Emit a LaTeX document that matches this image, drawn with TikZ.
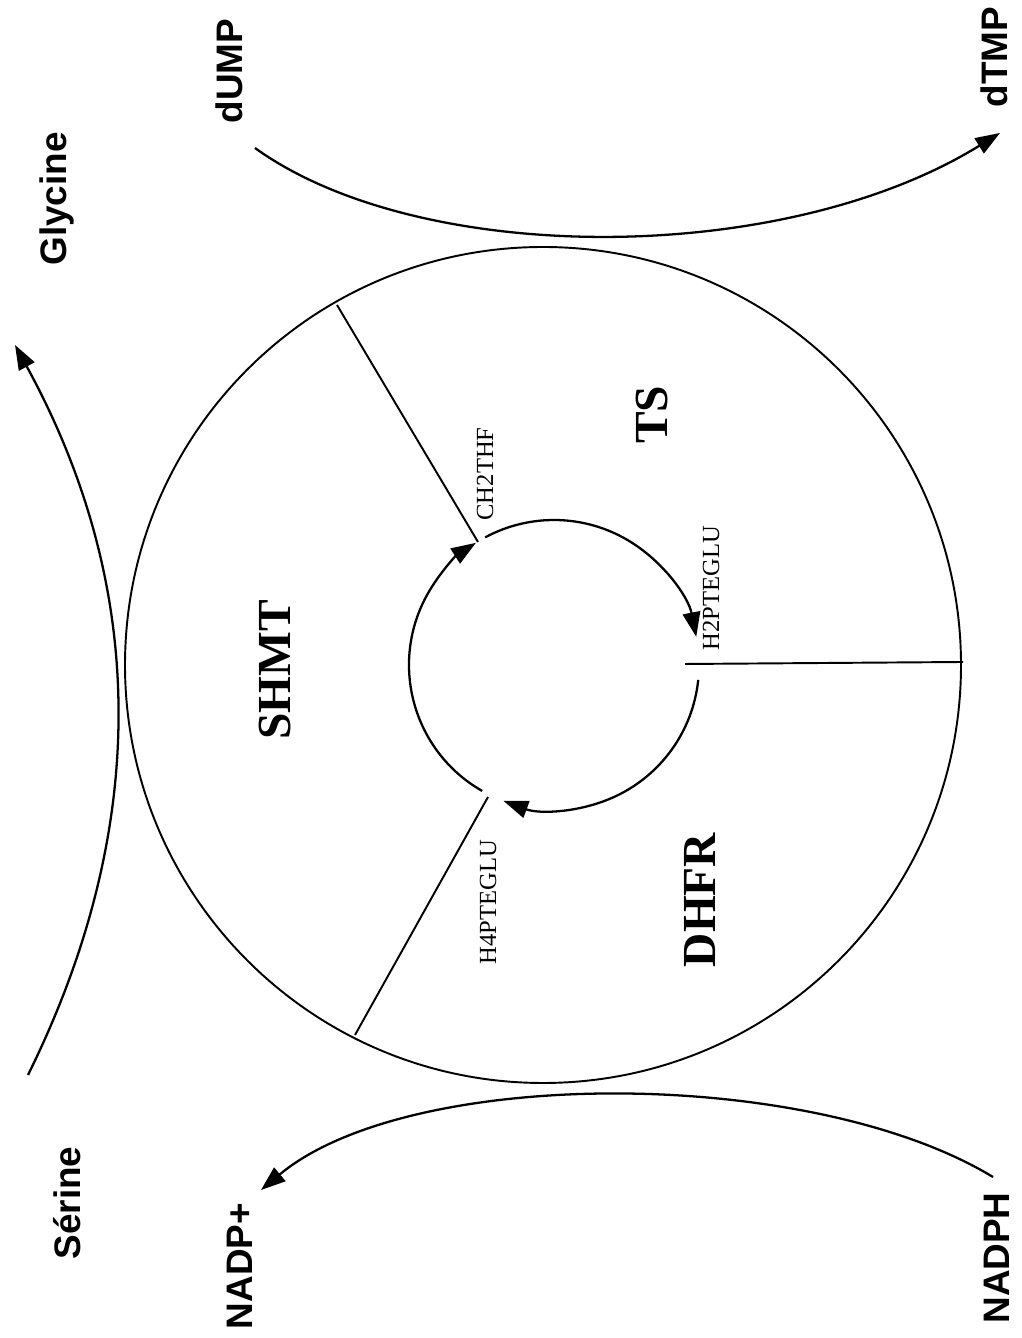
\documentclass[tikz,border=0pt]{standalone}
\usepackage{fontspec}
\setmainfont{Liberation Serif}
\setsansfont{Liberation Sans}
\usetikzlibrary{arrows.meta}

\tikzset{
  metab/.style={font=\sffamily\bfseries\fontsize{21}{21}\selectfont, rotate=90, inner sep=1pt},
  enzyme/.style={font=\bfseries\fontsize{27}{27}\selectfont, rotate=90},
  folate/.style={font=\fontsize{14}{14}\selectfont, rotate=90, inner sep=1pt},
  flow/.style={line width=1.3pt, -{Triangle[length=14pt,width=10pt]}},
}

\begin{document}
\begin{tikzpicture}[x=0.02cm,y=0.02cm]
  \useasboundingbox (0,0) rectangle (1021,1338);
  \coordinate (ring) at (543,673);
  \coordinate (hub) at (554,673);
  % outer ring with the three enzyme sectors
  \draw[line width=1.1pt] (ring) circle (418);
  \draw[line width=1.1pt] (478,796) -- (337,1033);
  \draw[line width=1.1pt] (685,674) -- (963,676);
  \draw[line width=1.1pt] (488,541) -- (355,303);
  % folate cycle
  \draw[flow] ([shift={(240.3:145)}]hub) arc[start angle=240.3, end angle=122.6, radius=145];
  \draw[flow] ([shift={(118.3:145)}]hub) arc[start angle=118.3, end angle=11.2, radius=145];
  \draw[flow] ([shift={(-5.9:145)}]hub) arc[start angle=-5.9, end angle=-110.4, radius=145];
  \node[enzyme] (shmt) at (275,668) {SHMT};
  \node[enzyme] (ts) at (652,923) {TS};
  \node[enzyme] (dhfr) at (700,438) {DHFR};
  \node[folate] (ch2thf) at (485,864) {CH2THF};
  \node[folate] (h2pteglu) at (711,750) {H2PTEGLU};
  \node[folate] (h4pteglu) at (488,436) {H4PTEGLU};
  % coupled reactions
  \node[metab] (glycine) at (57,1139) {Glycine};
  \node[metab] (serine) at (67,135) {Sérine};
  \node[metab] (dump) at (229,1267) {dUMP};
  \node[metab] (dtmp) at (994,1281) {dTMP};
  \node[metab] (nadpplus) at (240,72) {NADP+};
  \node[metab] (nadph) at (997,80) {NADPH};
  \coordinate (ser-out) at (28,263);
  \coordinate (gly-in) at (15,993);
  \coordinate (dump-out) at (255,1190);
  \coordinate (dtmp-in) at (1000,1205);
  \coordinate (nadph-out) at (993,161);
  \coordinate (nadp-in) at (261,148);
  \draw[flow] (ser-out) .. controls (149,508) and (149,748) .. (gly-in);
  \draw[flow] (dump-out) .. controls (420,1071) and (783,1071) .. (dtmp-in);
  \draw[flow] (nadph-out) .. controls (810,272) and (410,272) .. (nadp-in);
\end{tikzpicture}
\end{document}
